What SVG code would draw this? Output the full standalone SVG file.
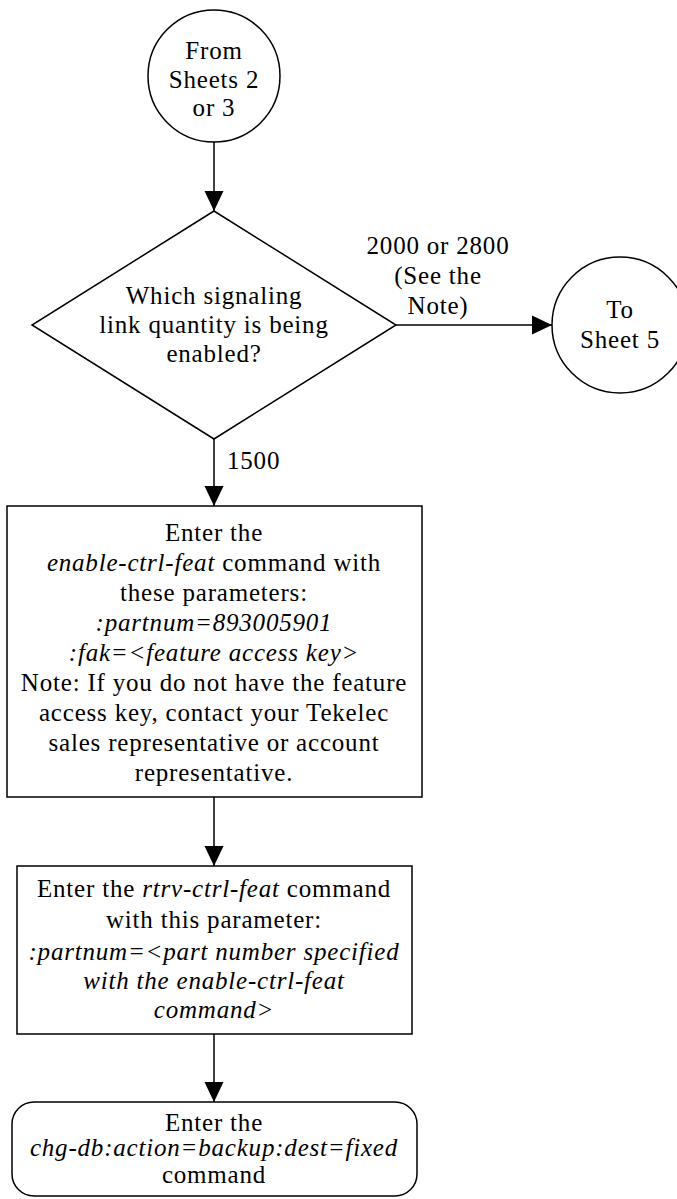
<svg xmlns="http://www.w3.org/2000/svg" width="677" height="1199" viewBox="0 0 677 1199">
<style>
.s{fill:#fff;stroke:#000;stroke-width:1.5}
.t{font-family:"Liberation Serif","Times New Roman",serif;font-size:25px;letter-spacing:0.8px;fill:#000;text-anchor:middle}
.i{font-style:italic}
.c{stroke:#000;stroke-width:1.5;fill:none}
</style>
<defs>
<marker id="ah" markerUnits="userSpaceOnUse" markerWidth="20" markerHeight="20" viewBox="0 0 20 20" refX="20" refY="10" orient="auto">
<path d="M0,0.5 L20,10 L0,19.5 Z" fill="#000"/>
</marker>
</defs>
<g id="connectors">
<line class="c" x1="214" y1="142" x2="214" y2="211" marker-end="url(#ah)"/>
<line class="c" x1="396" y1="325" x2="552" y2="325" marker-end="url(#ah)"/>
<line class="c" x1="214" y1="439" x2="214" y2="506" marker-end="url(#ah)"/>
<line class="c" x1="214" y1="797" x2="214" y2="866" marker-end="url(#ah)"/>
<line class="c" x1="214" y1="1034" x2="214" y2="1102" marker-end="url(#ah)"/>
<text class="t" x="438" y="254">2000 or 2800</text>
<text class="t" x="438" y="284">(See the</text>
<text class="t" x="438" y="314">Note)</text>
<text class="t" x="227" y="469" style="text-anchor:start">1500</text>
</g>
<g id="start">
<circle class="s" cx="214" cy="76" r="66"/>
<text class="t" x="214" y="59">From</text>
<text class="t" x="214" y="88">Sheets 2</text>
<text class="t" x="214" y="116">or 3</text>
</g>
<g id="decision">
<polygon class="s" points="214,211 396,325 214,439 32,325"/>
<text class="t" x="214" y="304">Which signaling</text>
<text class="t" x="214" y="333">link quantity is being</text>
<text class="t" x="214" y="362">enabled?</text>
</g>
<g id="sheet5">
<circle class="s" cx="620" cy="325" r="68"/>
<text class="t" x="620" y="318">To</text>
<text class="t" x="620" y="348">Sheet 5</text>
</g>
<g id="enable">
<rect class="s" x="7" y="506" width="415" height="291"/>
<text class="t" x="214" y="541">Enter the</text>
<text class="t" x="214" y="571"><tspan class="i">enable-ctrl-feat</tspan> command with</text>
<text class="t" x="214" y="601">these parameters:</text>
<text class="t i" x="214" y="631">:partnum=893005901</text>
<text class="t i" x="214" y="661">:fak=&lt;feature access key&gt;</text>
<text class="t" x="214" y="691">Note: If you do not have the feature</text>
<text class="t" x="214" y="721">access key, contact your Tekelec</text>
<text class="t" x="214" y="751">sales representative or account</text>
<text class="t" x="214" y="781">representative.</text>
</g>
<g id="rtrv">
<rect class="s" x="17" y="866" width="395" height="168"/>
<text class="t" x="214" y="897">Enter the <tspan class="i">rtrv-ctrl-feat</tspan> command</text>
<text class="t" x="214" y="928">with this parameter:</text>
<text class="t i" x="214" y="960">:partnum=&lt;part number specified</text>
<text class="t i" x="214" y="989">with the enable-ctrl-feat</text>
<text class="t i" x="214" y="1018">command&gt;</text>
</g>
<g id="backup">
<rect class="s" x="12" y="1102" width="405" height="94" rx="22" ry="22"/>
<text class="t" x="214" y="1131">Enter the</text>
<text class="t i" x="214" y="1156">chg-db:action=backup:dest=fixed</text>
<text class="t" x="214" y="1183">command</text>
</g>
</svg>
